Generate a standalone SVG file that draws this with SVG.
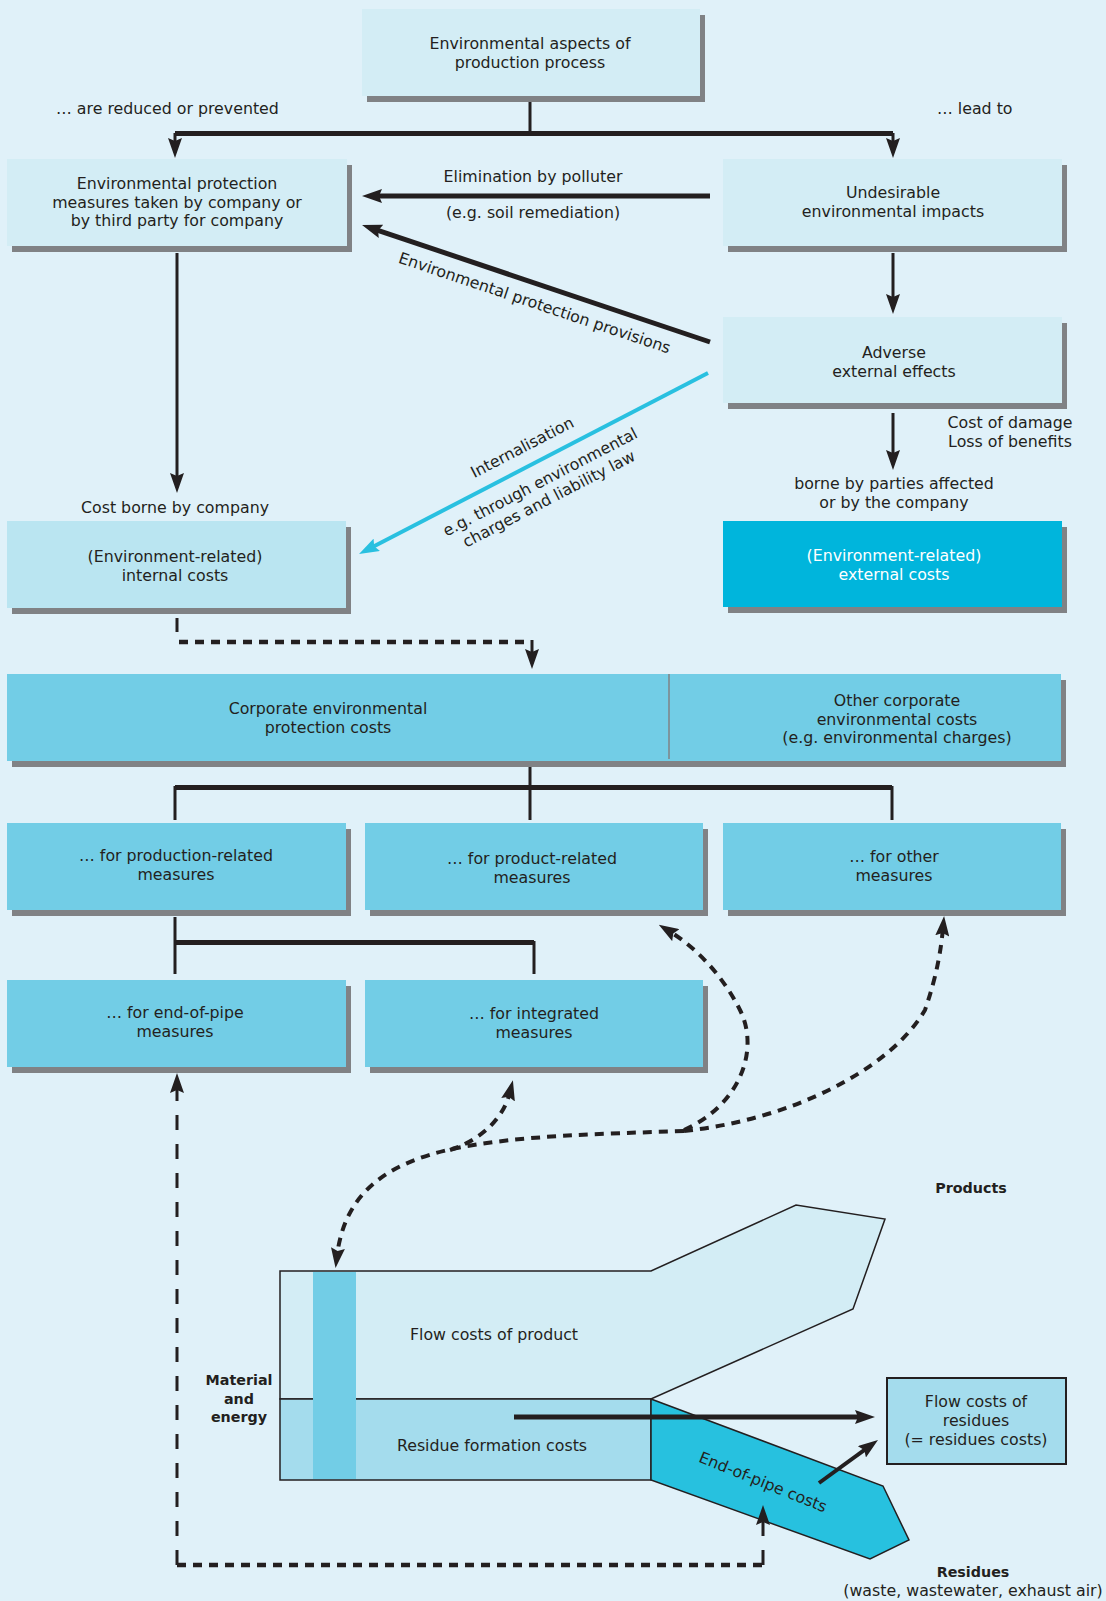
<svg xmlns="http://www.w3.org/2000/svg" width="1106" height="1601" viewBox="0 0 1106 1601">
<style>
text{font-family:"DejaVu Sans","Open Sans",sans-serif;font-size:15.8px;fill:#231f20;text-anchor:middle}
.b{font-weight:700;font-size:14.3px}
.w{fill:#ffffff}
.st{text-anchor:start}
.sh{fill:#808285}
.lt{fill:#d3edf5}
.ic{fill:#bae5f1}
.md{fill:#72cde6}
.ex{fill:#00b5dc}
.ln{stroke:#231f20;fill:none;stroke-width:3}
.bar{stroke:#231f20;fill:none;stroke-width:5}
.thk{stroke:#231f20;fill:none;stroke-width:5}
.dsq{stroke:#231f20;fill:none;stroke-width:4.5;stroke-dasharray:9 7}
.dcv{stroke:#231f20;fill:none;stroke-width:4;stroke-dasharray:9 7}
.dlg{stroke:#231f20;fill:none;stroke-width:3;stroke-dasharray:15 14}
.out{stroke:#231f20;stroke-width:1.5}
</style>
<defs>
<marker id="ah" viewBox="0 0 20 14" refX="8" refY="7" markerWidth="20" markerHeight="14" orient="auto" markerUnits="userSpaceOnUse"><path d="M0,0 L20,7 L0,14 L3,7 z" fill="#231f20"/></marker>
<marker id="ahc" viewBox="0 0 20 14" refX="8" refY="7" markerWidth="20" markerHeight="14" orient="auto" markerUnits="userSpaceOnUse"><path d="M0,0 L20,7 L0,14 L3,7 z" fill="#29c0e0"/></marker>
</defs>
<rect x="0" y="0" width="1106" height="1601" fill="#e0f1f9"/>

<g id="n-aspects"><rect class="sh" x="367" y="15" width="338" height="87"/><rect class="lt" x="362" y="9" width="338" height="87"/><text x="530" y="49">Environmental aspects of<tspan x="530" dy="18.5">production process</tspan></text></g>
<g id="n-measures"><rect class="sh" x="12" y="165" width="340" height="87"/><rect class="lt" x="7" y="159" width="340" height="87"/><text x="177" y="189">Environmental protection<tspan x="177" dy="18.5">measures taken by company or</tspan><tspan x="177" dy="18.5">by third party for company</tspan></text></g>
<g id="n-undesirable"><rect class="sh" x="728" y="165" width="339" height="87"/><rect class="lt" x="723" y="159" width="339" height="87"/><text x="893" y="198">Undesirable<tspan x="893" dy="18.5">environmental impacts</tspan></text></g>
<g id="n-adverse"><rect class="sh" x="728" y="323" width="339" height="86"/><rect class="lt" x="723" y="317" width="339" height="86"/><text x="894" y="358">Adverse<tspan x="894" dy="18.5">external effects</tspan></text></g>
<g id="n-internal"><rect class="sh" x="12" y="527" width="339" height="87"/><rect class="ic" x="7" y="521" width="339" height="87"/><text x="175" y="562">(Environment-related)<tspan x="175" dy="18.5">internal costs</tspan></text></g>
<g id="n-external"><rect class="sh" x="728" y="527" width="339" height="86"/><rect class="ex" x="723" y="521" width="339" height="86"/><text class="w" x="894" y="561">(Environment-related)<tspan x="894" dy="18.5">external costs</tspan></text></g>
<g id="n-corporate"><rect class="sh" x="12" y="680" width="1054" height="87"/><rect class="md" x="7" y="674" width="1054" height="87"/><line x1="669" y1="674" x2="669" y2="759" stroke="#808285" stroke-width="1.5"/><text x="328" y="714">Corporate environmental<tspan x="328" dy="18.5">protection costs</tspan></text><text x="897" y="706">Other corporate<tspan x="897" dy="18.5">environmental costs</tspan><tspan x="897" dy="18.5">(e.g. environmental charges)</tspan></text></g>
<g id="n-production"><rect class="sh" x="12" y="829" width="339" height="87"/><rect class="md" x="7" y="823" width="339" height="87"/><text x="176" y="861">… for production-related<tspan x="176" dy="18.5">measures</tspan></text></g>
<g id="n-product"><rect class="sh" x="370" y="829" width="338" height="87"/><rect class="md" x="365" y="823" width="338" height="87"/><text x="532" y="864">… for product-related<tspan x="532" dy="18.5">measures</tspan></text></g>
<g id="n-other"><rect class="sh" x="728" y="829" width="338" height="87"/><rect class="md" x="723" y="823" width="338" height="87"/><text x="894" y="862">… for other<tspan x="894" dy="18.5">measures</tspan></text></g>
<g id="n-endofpipe"><rect class="sh" x="12" y="986" width="339" height="87"/><rect class="md" x="7" y="980" width="339" height="87"/><text x="175" y="1018">… for end-of-pipe<tspan x="175" dy="18.5">measures</tspan></text></g>
<g id="n-integrated"><rect class="sh" x="370" y="986" width="338" height="87"/><rect class="md" x="365" y="980" width="338" height="87"/><text x="534" y="1019">… for integrated<tspan x="534" dy="18.5">measures</tspan></text></g>

<g id="n-flow">
<polygon points="280,1271 651,1271 796,1205 885,1219 853,1309 651,1399 280,1399" fill="#d3edf5" class="out"/>
<rect x="280" y="1399" width="371" height="81" fill="#a4dced" class="out"/>
<rect x="313" y="1272" width="43" height="207" fill="#72cde6"/>
<polygon points="651,1399 883,1486 909,1540 870,1559 651,1480" fill="#27c1df" class="out"/>
<text x="494" y="1340">Flow costs of product</text>
<text x="492" y="1451">Residue formation costs</text>
<text transform="translate(761,1487) rotate(22)">End-of-pipe costs</text>
<text class="b" x="239" y="1385">Material<tspan x="239" dy="18.5">and</tspan><tspan x="239" dy="18.5">energy</tspan></text>
<text class="b" x="971" y="1193">Products</text>
<text x="973" y="1577"><tspan class="b">Residues</tspan><tspan x="973" dy="19">(waste, wastewater, exhaust air)</tspan></text>
</g>
<g id="n-residues"><rect x="887" y="1378" width="179" height="86" fill="#a4dced" stroke="#231f20" stroke-width="2"/><text x="976" y="1407">Flow costs of<tspan x="976" dy="19">residues</tspan><tspan x="976" dy="19">(= residues costs)</tspan></text></g>

<g id="labels">
<text class="st" x="56" y="114">… are reduced or prevented</text>
<text class="st" x="937" y="114">… lead to</text>
<text x="533" y="182">Elimination by polluter<tspan x="533" dy="36">(e.g. soil remediation)</tspan></text>
<text transform="translate(533,308) rotate(18.6)">Environmental protection provisions</text>
<text transform="translate(540,460) rotate(-27.4)" x="-10" y="-14">Internalisation<tspan x="-10" dy="39">e.g. through environmental</tspan><tspan x="-10" dy="19">charges and liability law</tspan></text>
<text x="175" y="513">Cost borne by company</text>
<text x="1010" y="428">Cost of damage<tspan x="1010" dy="18.5">Loss of benefits</tspan></text>
<text x="894" y="489">borne by parties affected<tspan x="894" dy="19">or by the company</tspan></text>
</g>

<g id="connectors">
<path class="ln" d="M530 102 V133"/>
<path class="bar" d="M175 133.5 H893"/>
<path class="ln" d="M175 133 V146" marker-end="url(#ah)"/>
<path class="ln" d="M893 133 V146" marker-end="url(#ah)"/>
<path class="thk" d="M710 196 H374" marker-end="url(#ah)"/>
<path class="thk" d="M710 342 L373.4 228.8" marker-end="url(#ah)"/>
<path d="M708 373 L369.7 548.5" stroke="#29c0e0" stroke-width="4" fill="none" marker-end="url(#ahc)"/>
<path class="ln" d="M177 253 V481" marker-end="url(#ah)"/>
<path class="ln" d="M893 253 V302" marker-end="url(#ah)"/>
<path class="ln" d="M893 413 V458" marker-end="url(#ah)"/>
<path class="ln" d="M177 618 V632"/>
<path class="dsq" d="M179 642 H526"/>
<path class="ln" d="M532 640 V657" marker-end="url(#ah)"/>
<path class="ln" d="M530 767 V820"/>
<path class="bar" d="M175 787.5 H892"/>
<path class="ln" d="M175 786 V820"/>
<path class="ln" d="M892 786 V820"/>
<path class="ln" d="M175 917 V974"/>
<path class="bar" d="M175 942.5 H534"/>
<path class="ln" d="M534 941 V974"/>
<path class="dcv" d="M684 1131 C600 1134 520 1135 452 1149 C390 1163 345 1190 337 1256" marker-end="url(#ah)"/>
<path class="dcv" d="M450 1150 C480 1140 503 1120 510 1092" marker-end="url(#ah)"/>
<path class="dcv" d="M684 1130 C740 1105 760 1050 740 1010 C725 980 700 950 669 931" marker-end="url(#ah)"/>
<path class="dcv" d="M684 1131 C790 1120 890 1070 925 1010 C937 975 941 950 943 928" marker-end="url(#ah)"/>
<path class="dlg" d="M177 1565 V1085" marker-end="url(#ah)"/>
<path class="dsq" d="M177 1565 H763"/>
<path class="dlg" d="M763 1565 V1517" marker-end="url(#ah)"/>
<path class="thk" d="M514 1417 H863" marker-end="url(#ah)"/>
<path stroke="#231f20" stroke-width="4" fill="none" d="M819 1483 L868.3 1447.1" marker-end="url(#ah)"/>
</g>
</svg>
